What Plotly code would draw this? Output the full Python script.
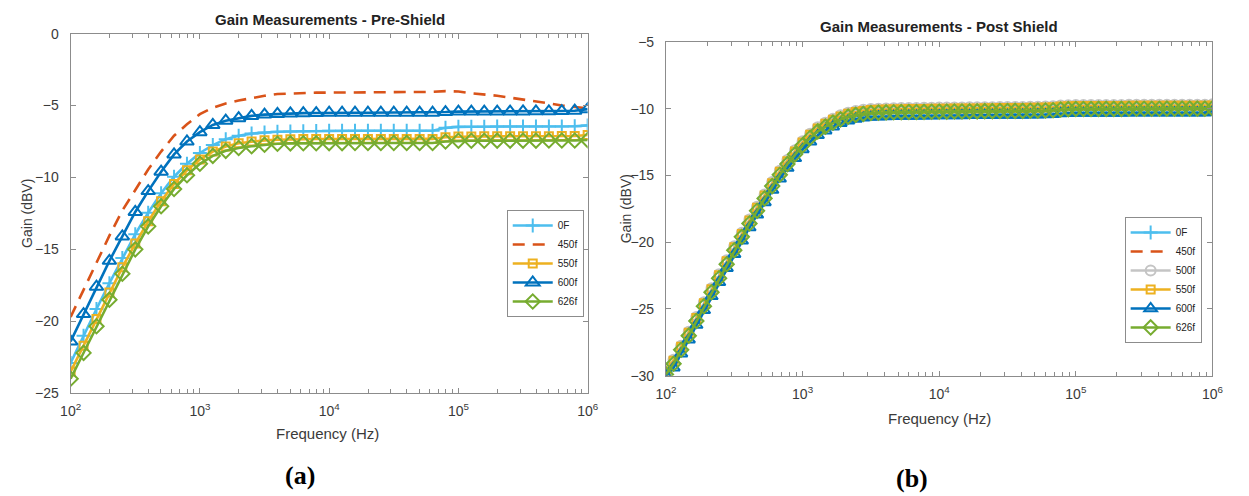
import numpy as np
import plotly.graph_objects as go

# ---------------- data ----------------
# Pre-shield sweep: 10 points per decade, 100 Hz .. 1 MHz
freq_a = np.logspace(2, 6, 41)
pre_0F = [-22.9, -21.0, -19.15, -17.35, -15.6, -13.95, -12.45, -11.1, -9.95, -9.05,
          -8.3, -7.75, -7.35, -7.1, -6.95, -6.87, -6.82, -6.8, -6.78, -6.77,
          -6.76, -6.75, -6.75, -6.75, -6.75, -6.75, -6.75, -6.75, -6.75, -6.55,
          -6.48, -6.47, -6.47, -6.46, -6.46, -6.46, -6.45, -6.45, -6.45, -6.44, -6.38]
pre_450f = [-19.7, -17.8, -15.9, -14.05, -12.3, -10.9, -9.45, -8.2, -7.1, -6.3,
            -5.6, -5.15, -4.85, -4.65, -4.48, -4.32, -4.2, -4.15, -4.12, -4.1,
            -4.1, -4.1, -4.1, -4.1, -4.1, -4.1, -4.1, -4.08, -4.05, -4.0,
            -4.02, -4.15, -4.22, -4.32, -4.45, -4.57, -4.7, -4.85, -5.0, -5.12, -5.2]
pre_550f = [-23.5, -21.7, -19.85, -18.0, -16.25, -14.6, -13.05, -11.65, -10.45, -9.5,
            -8.75, -8.2, -7.85, -7.62, -7.5, -7.42, -7.38, -7.35, -7.33, -7.33,
            -7.33, -7.33, -7.32, -7.32, -7.32, -7.32, -7.32, -7.32, -7.32, -7.2,
            -7.15, -7.15, -7.14, -7.14, -7.14, -7.13, -7.13, -7.13, -7.12, -7.12, -7.05]
pre_600f = [-21.4, -19.5, -17.6, -15.8, -14.1, -12.4, -10.95, -9.6, -8.4, -7.5,
            -6.85, -6.35, -6.05, -5.88, -5.72, -5.63, -5.58, -5.55, -5.53, -5.52,
            -5.5, -5.5, -5.5, -5.5, -5.5, -5.5, -5.5, -5.5, -5.5, -5.45,
            -5.42, -5.42, -5.42, -5.42, -5.42, -5.41, -5.4, -5.4, -5.38, -5.36, -5.25]
pre_626f = [-24.0, -22.2, -20.35, -18.5, -16.7, -15.0, -13.4, -12.0, -10.8, -9.85,
            -9.05, -8.5, -8.15, -7.95, -7.83, -7.73, -7.66, -7.63, -7.62, -7.62,
            -7.61, -7.61, -7.6, -7.6, -7.6, -7.6, -7.6, -7.6, -7.6, -7.5,
            -7.45, -7.45, -7.45, -7.44, -7.44, -7.44, -7.44, -7.43, -7.43, -7.43, -7.4]

# Post-shield sweep: 18 points per decade, 100 Hz .. 1 MHz
freq_b = np.logspace(2, 6, 73)
post_0F = [-29.85, -29.05, -28.0, -26.95, -25.85, -24.75, -23.7, -22.65, -21.6, -20.55,
           -19.55, -18.55, -17.6, -16.67, -15.75, -14.9, -14.1, -13.37, -12.7, -12.13,
           -11.65, -11.3, -11.0, -10.75, -10.55, -10.42, -10.34, -10.28, -10.25, -10.23,
           -10.22, -10.21, -10.2, -10.2, -10.19, -10.18, -10.17, -10.17, -10.16, -10.16,
           -10.15, -10.15, -10.14, -10.14, -10.13, -10.13, -10.12, -10.12, -10.11, -10.1,
           -10.09, -10.07, -10.01, -9.99, -9.98, -9.98, -9.98, -9.97, -9.97, -9.97,
           -9.97, -9.96, -9.96, -9.96, -9.96, -9.96, -9.95, -9.95, -9.95, -9.95,
           -9.95, -9.95, -9.93]
post_450f = [-29.75, -28.95, -27.9, -26.85, -25.75, -24.65, -23.6, -22.55, -21.5, -20.45,
             -19.45, -18.45, -17.5, -16.57, -15.65, -14.8, -14.0, -13.27, -12.6, -12.03,
             -11.55, -11.2, -10.9, -10.65, -10.45, -10.32, -10.24, -10.18, -10.15, -10.13,
             -10.12, -10.11, -10.1, -10.1, -10.09, -10.08, -10.07, -10.07, -10.06, -10.06,
             -10.05, -10.05, -10.04, -10.04, -10.03, -10.03, -10.02, -10.02, -10.01, -10.0,
             -9.99, -9.97, -9.91, -9.89, -9.88, -9.88, -9.88, -9.87, -9.87, -9.87,
             -9.87, -9.86, -9.86, -9.86, -9.86, -9.86, -9.85, -9.85, -9.85, -9.85,
             -9.85, -9.85, -9.83]
post_500f = [-29.6, -28.8, -27.75, -26.7, -25.6, -24.5, -23.45, -22.4, -21.35, -20.3,
             -19.3, -18.3, -17.35, -16.42, -15.5, -14.65, -13.85, -13.12, -12.45, -11.88,
             -11.4, -11.05, -10.75, -10.5, -10.3, -10.17, -10.09, -10.03, -10.0, -9.98,
             -9.97, -9.96, -9.95, -9.95, -9.94, -9.93, -9.92, -9.92, -9.91, -9.91,
             -9.9, -9.9, -9.89, -9.89, -9.88, -9.88, -9.87, -9.87, -9.86, -9.85,
             -9.84, -9.82, -9.76, -9.74, -9.73, -9.73, -9.73, -9.72, -9.72, -9.72,
             -9.72, -9.71, -9.71, -9.71, -9.71, -9.71, -9.7, -9.7, -9.7, -9.7,
             -9.7, -9.7, -9.68]
post_550f = [-29.68, -28.88, -27.83, -26.78, -25.68, -24.58, -23.53, -22.48, -21.43, -20.38,
             -19.38, -18.38, -17.43, -16.5, -15.58, -14.73, -13.93, -13.2, -12.53, -11.96,
             -11.48, -11.13, -10.83, -10.58, -10.38, -10.25, -10.17, -10.11, -10.08, -10.06,
             -10.05, -10.04, -10.03, -10.03, -10.02, -10.01, -10.0, -10.0, -9.99, -9.99,
             -9.98, -9.98, -9.97, -9.97, -9.96, -9.96, -9.95, -9.95, -9.94, -9.93,
             -9.92, -9.9, -9.84, -9.82, -9.81, -9.81, -9.81, -9.8, -9.8, -9.8,
             -9.8, -9.79, -9.79, -9.79, -9.79, -9.79, -9.78, -9.78, -9.78, -9.78,
             -9.78, -9.78, -9.76]
post_600f = [-30.0, -29.4, -28.35, -27.3, -26.2, -25.1, -24.05, -23.0, -21.95, -20.9,
             -19.9, -18.9, -17.95, -17.02, -16.1, -15.25, -14.45, -13.72, -13.05, -12.48,
             -12.0, -11.65, -11.35, -11.1, -10.9, -10.77, -10.69, -10.63, -10.6, -10.58,
             -10.57, -10.56, -10.55, -10.55, -10.54, -10.53, -10.52, -10.52, -10.51, -10.51,
             -10.5, -10.5, -10.49, -10.49, -10.48, -10.48, -10.47, -10.47, -10.46, -10.45,
             -10.44, -10.42, -10.36, -10.34, -10.33, -10.33, -10.33, -10.32, -10.32, -10.32,
             -10.32, -10.31, -10.31, -10.31, -10.31, -10.31, -10.3, -10.3, -10.3, -10.3,
             -10.3, -10.3, -10.2]
post_626f = [-29.9, -29.1, -28.05, -27.0, -25.9, -24.8, -23.75, -22.7, -21.65, -20.6,
             -19.6, -18.6, -17.65, -16.72, -15.8, -14.95, -14.15, -13.42, -12.75, -12.18,
             -11.7, -11.35, -11.05, -10.8, -10.6, -10.47, -10.39, -10.33, -10.3, -10.28,
             -10.27, -10.26, -10.25, -10.25, -10.24, -10.23, -10.22, -10.22, -10.21, -10.21,
             -10.2, -10.2, -10.19, -10.19, -10.18, -10.18, -10.17, -10.17, -10.16, -10.15,
             -10.14, -10.12, -10.06, -10.04, -10.03, -10.03, -10.03, -10.02, -10.02, -10.02,
             -10.02, -10.01, -10.01, -10.01, -10.01, -10.01, -10.0, -10.0, -10.0, -10.0,
             -10.0, -10.0, -9.98]

x_tickvals = [1e2, 1e3, 1e4, 1e5, 1e6]
x_ticktext = ["10<sup>2</sup>", "10<sup>3</sup>", "10<sup>4</sup>", "10<sup>5</sup>", "10<sup>6</sup>"]

# ---------------- style ----------------
FONT = "Liberation Sans, Arial, sans-serif"
C_0F, C_450, C_500, C_550, C_600, C_626 = "#4DBEEE", "#D95319", "#C4C4C4", "#EDB120", "#0072BD", "#77AC30"
AXC = "#8c8c8c"
TXT = "#3a3a3a"

fig = go.Figure()


def add(x, y, name, color, symbol, msize, xa, ya, leg, dash="solid", mode="lines+markers"):
    fig.add_trace(go.Scatter(
        x=x, y=y, name=name, mode=mode, xaxis=xa, yaxis=ya, legend=leg,
        line=dict(color=color, width=2.6, dash=dash),
        marker=dict(symbol=symbol, size=msize, color=color,
                    line=dict(color=color, width=2)),
    ))


# left panel
add(freq_a, pre_0F, "0F", C_0F, "cross-thin-open", 10, "x", "y", "legend")
add(freq_a, pre_450f, "450f", C_450, "circle", 1, "x", "y", "legend", dash="12px,8px", mode="lines")
add(freq_a, pre_550f, "550f", C_550, "square-open", 8, "x", "y", "legend")
add(freq_a, pre_600f, "600f", C_600, "triangle-up-open", 12, "x", "y", "legend")
add(freq_a, pre_626f, "626f", C_626, "diamond-open", 11, "x", "y", "legend")

# right panel
add(freq_b, post_0F, "0F", C_0F, "cross-thin-open", 10, "x2", "y2", "legend2")
add(freq_b, post_450f, "450f", C_450, "circle", 1, "x2", "y2", "legend2", dash="12px,8px", mode="lines")
add(freq_b, post_500f, "500f", C_500, "circle-open", 10, "x2", "y2", "legend2")
add(freq_b, post_550f, "550f", C_550, "square-open", 8, "x2", "y2", "legend2")
add(freq_b, post_600f, "600f", C_600, "triangle-up-open", 11, "x2", "y2", "legend2")
add(freq_b, post_626f, "626f", C_626, "diamond-open", 11, "x2", "y2", "legend2")

W, H = 1249, 496
minor_vals = [m * 10 ** d for d in range(2, 6) for m in range(2, 10)]


def xaxis(domain, anchor):
    return dict(type="log", range=[2, 6], domain=domain, anchor=anchor,
                tickmode="array", tickvals=x_tickvals, ticktext=x_ticktext,
                ticks="inside", ticklen=5, tickcolor=AXC, showline=True, linecolor=AXC,
                linewidth=1, mirror="ticks", showgrid=False, zeroline=False,
                ticklabelstandoff=5,
                tickfont=dict(family=FONT, size=14, color=TXT),
                minor=dict(tickmode="array", tickvals=minor_vals, ticks="inside",
                           ticklen=4, tickcolor=AXC, showgrid=False))


def yaxis(domain, anchor, rng):
    return dict(range=rng, domain=domain, anchor=anchor, dtick=5, tick0=0,
                ticks="inside", ticklen=5, tickcolor=AXC, showline=True, linecolor=AXC,
                linewidth=1, mirror="ticks", showgrid=False, zeroline=False,
                ticklabelstandoff=8,
                tickfont=dict(family=FONT, size=14, color=TXT))


def px_x(p):
    return p / W


def px_y(p):
    return 1 - p / H


la = [px_x(60.7), px_x(587)]
lb = [px_y(398), px_y(26.5)]
ra = [px_x(666.7), px_x(1223)]
rb = [px_y(380), px_y(35)]

legend_common = dict(bgcolor="white", bordercolor=AXC, borderwidth=1,
                     font=dict(family=FONT, size=10, color="#222"),
                     itemwidth=40, tracegroupgap=0, xanchor="right", yanchor="middle")

fig.update_layout(
    width=W, height=H, margin=dict(l=0, r=0, t=0, b=0),
    paper_bgcolor="white", plot_bgcolor="white",
    xaxis=xaxis(la, "y"), yaxis=yaxis(lb, "x", [-25, 0]),
    xaxis2=xaxis(ra, "y2"), yaxis2=yaxis(rb, "x2", [-30, -5]),
    legend=dict(x=px_x(583), y=px_y(264), **legend_common),
    legend2=dict(x=px_x(1212), y=px_y(281), **legend_common),
    showlegend=True,
)

ann = [
    dict(text="<b>Gain Measurements - Pre-Shield</b>", x=px_x(325), y=px_y(12), size=15, color="#222", fam=FONT, angle=0),
    dict(text="<b>Gain Measurements - Post Shield</b>", x=px_x(945), y=px_y(19), size=15, color="#222", fam=FONT, angle=0),
    dict(text="Frequency (Hz)", x=px_x(322), y=px_y(440), size=15, color=TXT, fam=FONT, angle=0),
    dict(text="Frequency (Hz)", x=px_x(945), y=px_y(424), size=15, color=TXT, fam=FONT, angle=0),
    dict(text="Gain (dBV)", x=px_x(16), y=px_y(212), size=14, color=TXT, fam=FONT, angle=-90),
    dict(text="Gain (dBV)", x=px_x(626), y=px_y(207), size=14, color=TXT, fam=FONT, angle=-90),
    dict(text="<b>(a)</b>", x=px_x(294), y=px_y(483), size=26, color="#000", fam="Liberation Serif, Times New Roman, serif", angle=0),
    dict(text="<b>(b)</b>", x=px_x(917), y=px_y(486), size=26, color="#000", fam="Liberation Serif, Times New Roman, serif", angle=0),
]
for a in ann:
    fig.add_annotation(text=a["text"], x=a["x"], y=a["y"], xref="paper", yref="paper",
                       showarrow=False, xanchor="center", yanchor="middle", textangle=a["angle"],
                       font=dict(family=a["fam"], size=a["size"], color=a["color"]))

fig.write_html("out.html")
